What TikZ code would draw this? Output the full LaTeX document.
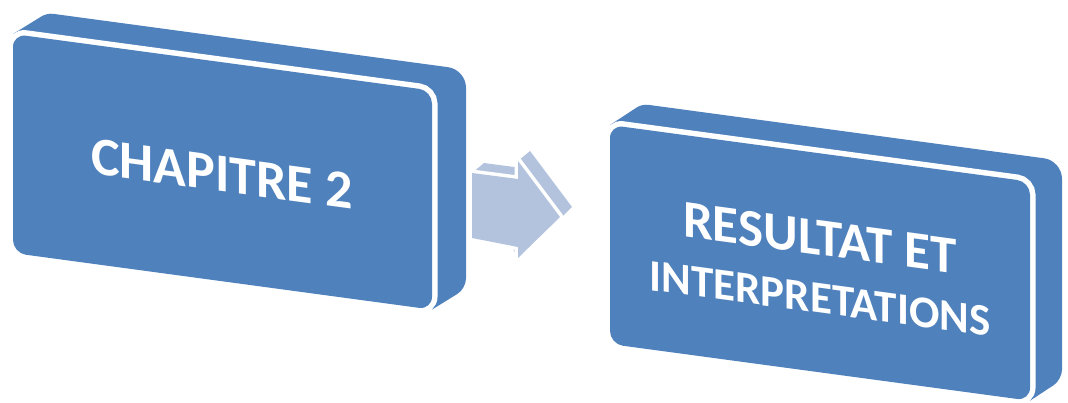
\documentclass[tikz,border=0pt]{standalone}
\usepackage{fontspec}
\setmainfont{Carlito}
\definecolor{boxblue}{HTML}{4F81BD}
\definecolor{arrowblue}{HTML}{B3C3DE}

\begin{document}
\begin{tikzpicture}[x=1pt, y=1pt,
    side/.style={fill=boxblue},
    face/.style={fill=boxblue, rounded corners=13pt, preaction={draw=white, line width=11pt}},
    arrowside/.style={fill=arrowblue},
    arrowface/.style={fill=arrowblue, preaction={draw=white, line width=7pt, line join=round}},
    boxtext/.style={text=white, inner sep=0pt, transform shape}]
    \useasboundingbox (0,0) rectangle (1068,-403);
    % Left block:
        \fill[side] (13,-34) [rounded corners=6pt] -- (47,-13) [rounded corners=18pt] -- (466,-69.6) [rounded corners=10pt] -- (466,-288.6) [sharp corners] -- (432,-309.6) -- cycle;
        \fill[face] (13,-34) -- (432,-90.6) -- (432,-309.6) -- (13,-253) -- cycle;
        \begin{scope}[shift={(222,-174)}, yslant=-0.135]
            \node[boxtext, font=\bfseries\fontsize{54}{60}\selectfont] (chap) at (0,0) {CHAPITRE 2};
        \end{scope}
    % Right block:
        \fill[side] (610,-125) [rounded corners=6pt] -- (642,-104) [rounded corners=18pt] -- (1062,-160.7) [rounded corners=10pt] -- (1062,-379.7) [sharp corners] -- (1030,-400.7) -- cycle;
        \fill[face] (610,-125) -- (1030,-181.7) -- (1030,-400.7) -- (610,-344) -- cycle;
        \begin{scope}[shift={(820,-267)}, yslant=-0.135]
            \node[boxtext, align=center, font=\bfseries\fontsize{45}{58}\selectfont] (res) at (0,0) {{\fontsize{53}{58}\selectfont RESULTAT ET}\\INTERPRETATIONS};
        \end{scope}
    % Arrow between the blocks:
        \fill[arrowside] (472,-173) -- (484,-163) -- (518,-167.5) -- (518,-161) -- (530,-151) -- (572,-207) -- (530,-248) -- (518,-258) -- cycle;
        \fill[arrowface] (472,-173) -- (518,-179) -- (518,-161) -- (560,-217) -- (518,-258) -- (518,-247) -- (472,-238) -- cycle;
\end{tikzpicture}
\end{document}
